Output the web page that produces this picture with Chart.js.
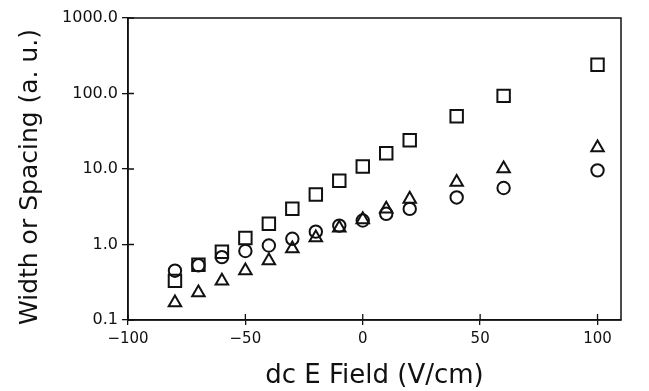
<!DOCTYPE html>
<html>
<head>
<meta charset="utf-8">
<script src="https://cdn.jsdelivr.net/npm/chart.js@4"></script>
<style>
html,body{margin:0;padding:0;background:#fff;}
#wrap{width:649px;height:391px;position:relative;}
</style>
</head>
<body>
<div id="wrap"><canvas id="c" width="649" height="391"></canvas></div>
<script>
const fieldValues = [-80, -70, -60, -50, -40, -30, -20, -10, 0, 10, 20, 40, 60, 100];
const squareSeries = [0.33, 0.54, 0.80, 1.22, 1.88, 2.97, 4.6, 7.0, 10.8, 16.2, 24, 50, 93, 240];
const circleSeries = [0.45, 0.53, 0.68, 0.82, 0.97, 1.19, 1.48, 1.78, 2.08, 2.55, 2.96, 4.2, 5.6, 9.6];
const triangleSeries = [0.17, 0.23, 0.33, 0.45, 0.61, 0.88, 1.23, 1.66, 2.14, 2.96, 4.0, 6.7, 10.1, 19.2];
const xTickValues = [-100, -50, 0, 50, 100];
const yTickValues = [0.1, 1, 10, 100, 1000];

const FONT = "'DejaVu Sans', 'Liberation Sans', sans-serif";

function pts(ys) { return fieldValues.map((x, i) => ({x: x, y: ys[i]})); }

const framePlugin = {
  id: 'frame',
  afterDraw(chart) {
    const {ctx, chartArea: a, scales} = chart;
    ctx.save();
    ctx.strokeStyle = '#111';
    ctx.lineWidth = 1.5;
    ctx.strokeRect(a.left, a.top, a.right - a.left, a.bottom - a.top);
    ctx.lineWidth = 1.3;
    ctx.beginPath();
    xTickValues.forEach(v => {
      const px = scales.x.getPixelForValue(v);
      ctx.moveTo(px, a.bottom); ctx.lineTo(px, a.bottom - 6);
    });
    yTickValues.forEach(v => {
      const py = scales.y.getPixelForValue(v);
      ctx.moveTo(a.left, py); ctx.lineTo(a.left + 6, py);
    });
    ctx.stroke();
    ctx.restore();
  }
};

new Chart(document.getElementById('c'), {
  type: 'scatter',
  data: {
    datasets: [
      {data: pts(squareSeries), pointStyle: 'rect', pointRadius: 8.8, borderColor: '#111', backgroundColor: 'rgba(0,0,0,0)', borderWidth: 2},
      {data: pts(circleSeries), pointStyle: 'circle', pointRadius: 6.2, borderColor: '#111', backgroundColor: 'rgba(0,0,0,0)', borderWidth: 2},
      {data: pts(triangleSeries), pointStyle: 'triangle', pointRadius: 7.2, borderColor: '#111', backgroundColor: 'rgba(0,0,0,0)', borderWidth: 2}
    ]
  },
  options: {
    responsive: false,
    animation: false,
    events: [],
    layout: {padding: {top: 18, right: 28, left: 15, bottom: 0}},
    plugins: {legend: {display: false}, tooltip: {enabled: false}},
    scales: {
      x: {
        type: 'linear', min: -100, max: 110,
        afterBuildTicks(s) { s.ticks = xTickValues.map(v => ({value: v})); },
        ticks: {color: '#111', font: {family: FONT, size: 15}, padding: 5, maxRotation: 0,
          callback: v => (v < 0 ? '\u2212' + Math.abs(v) : String(v))},
        grid: {drawOnChartArea: false, drawTicks: true, tickLength: 5, color: '#111', lineWidth: 1.3},
        border: {display: true, color: '#111', width: 1.5},
        title: {display: true, text: 'dc E Field (V/cm)', color: '#111', font: {family: FONT, size: 26}, padding: {top: 0, bottom: -1}},
        afterFit(s) { s.height = 71; }
      },
      y: {
        type: 'logarithmic', min: 0.1, max: 1000,
        afterBuildTicks(s) { s.ticks = yTickValues.map(v => ({value: v})); },
        ticks: {color: '#111', font: {family: FONT, size: 16}, padding: 4,
          callback: v => Number(v).toFixed(1)},
        grid: {drawOnChartArea: false, drawTicks: true, tickLength: 6, color: '#111', lineWidth: 1.3},
        border: {display: true, color: '#111', width: 1.5},
        title: {display: true, text: 'Width or Spacing (a. u.)\u00A0\u00A0', color: '#111', font: {family: FONT, size: 25}, padding: {top: 0, bottom: 4}},
        afterFit(s) { s.width = 113; }
      }
    }
  },
  plugins: [framePlugin]
});
</script>
</body>
</html>
